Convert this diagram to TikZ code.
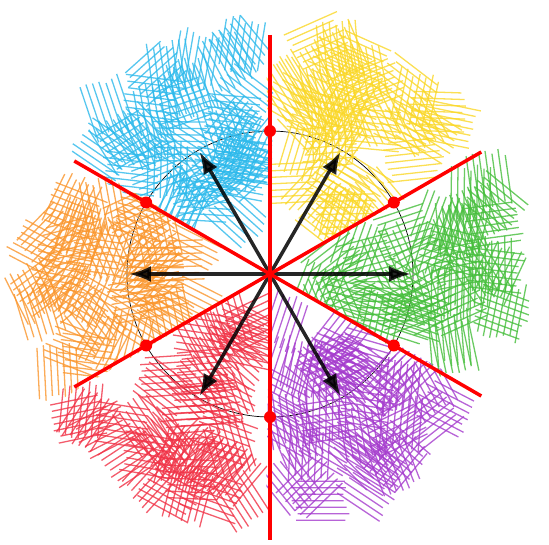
\documentclass[tikz,border=0pt]{standalone}
\usepackage{tikz}
\usetikzlibrary{arrows.meta}
\usetikzlibrary{calc}
\definecolor{sblue}{RGB}{45,185,235}
\definecolor{syellow}{RGB}{250,215,40}
\definecolor{sgreen}{RGB}{70,190,60}
\definecolor{spurple}{RGB}{165,60,205}
\definecolor{sred}{RGB}{240,50,70}
\definecolor{sorange}{RGB}{250,150,45}
\tikzset{
dot/.style = {circle, fill=red, minimum size=#1,
              inner sep=0pt, outer sep=0pt},
dot/.default = 12pt, % size of the circle diameter
hatch/.style = {draw=#1, line width=1.3pt, opacity=0.8},
divider/.style = {draw=red, line width=3.5pt},
vec/.style = {draw=black, line width=3.5pt, draw opacity=0.85, fill opacity=0.85,
              -{Latex[length=22pt,width=16pt]}}
}
% one coloured sector of hatch patches around angle #2
\newcommand{\scribble}[2]{%
  \begin{scope}
    \clip (0,0) -- (#2-31:300) arc[start angle=#2-31, end angle=#2+31, radius=300] -- cycle;
    \foreach \k in {1,...,42}{
      \pgfmathsetmacro\rr{35+205*sqrt(rnd)}
      \pgfmathsetmacro\aa{#2-25+50*rnd}
      \pgfmathsetmacro\oo{180*rnd}
      \begin{scope}[shift={(\aa:\rr)}, rotate=\oo]
        \foreach \j in {-3,...,3}
          \draw[hatch=#1] (-30+8*rnd,\j*6.5) -- (30-8*rnd,\j*6.5);
      \end{scope}
    }
  \end{scope}}
\newcommand{\redvert}[2]{\node[dot] (#1) at (#2) {};}

\begin{document}
\begin{tikzpicture}[x=1pt,y=1pt]
    \useasboundingbox (-270,-270) rectangle (279,274);
    \coordinate (o) at (0,0);
    \draw[line width=0.7pt] (o) circle[radius=143];

    % hatch sectors
    \pgfmathsetseed{4242}
    \scribble{syellow}{60}
    \scribble{sblue}{120}
    \scribble{sorange}{180}
    \scribble{sred}{240}
    \scribble{spurple}{300}
    \scribble{sgreen}{0}

    % vectors
    \foreach \a in {0,60,...,300}
      \coordinate (v\a) at (\a:141);
    \foreach \a in {0,60,...,300}
      \draw[vec] (o) -- (v\a);

    % dividing lines
    \coordinate (t) at (90:239);
    \coordinate (b) at (-90:266);
    \coordinate (ur) at (30:244);
    \coordinate (ll) at (210:226);
    \coordinate (ul) at (150:226);
    \coordinate (lr) at (-30:244);
    \draw[divider] (t) -- (b);
    \draw[divider] (ur) -- (ll);
    \draw[divider] (ul) -- (lr);

    \redvert{p1}{90:143}
    \redvert{p2}{30:143}
    \redvert{p3}{-30:143}
    \redvert{p4}{-90:143}
    \redvert{p5}{210:143}
    \redvert{p6}{150:143}
\end{tikzpicture}
\end{document}
